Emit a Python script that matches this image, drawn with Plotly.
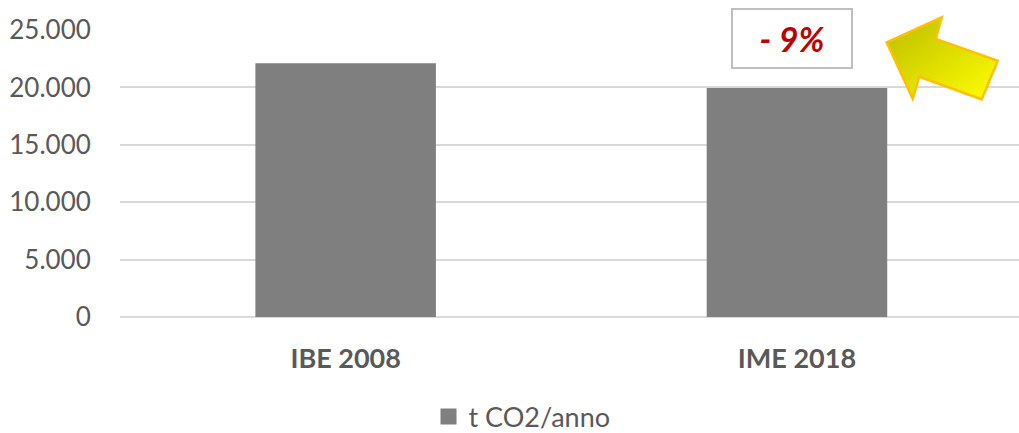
import base64
import plotly.graph_objects as go

# Emissions per inventory year
categories = ["IBE 2008", "IME 2018"]
emissions = [22100, 19950]
series_name = "t CO2/anno"
y_ticks = [0, 5000, 10000, 15000, 20000, 25000]
y_tick_labels = ["0", "5.000", "10.000", "15.000", "20.000", "25.000"]
change_label = "- 9%"

W, H = 1019, 433
ML, MR, MT, MB = 120, 0, 30, 116
PW, PH = W - ML - MR, H - MT - MB

FONT = "Lato"
GREY_TXT = "#595959"
BAR = "#7f7f7f"
GRID = "#d9d9d9"

fig = go.Figure()
fig.add_trace(go.Bar(
    x=list(range(len(categories))), y=emissions, width=0.4,
    marker=dict(color=BAR, line=dict(width=0)),
    showlegend=False, hoverinfo="y",
))
# legend entry with a larger square swatch
fig.add_trace(go.Scatter(
    x=[None], y=[None], mode="markers", name=series_name,
    marker=dict(symbol="square", size=17, color=BAR),
))

# highlighted arrow (SVG overlay in figure pixel space, gradient fill)
arrow_pts = [(886.7, 42.3), (941.7, 17.3), (935.7, 39.0), (997.7, 60.7),
             (981.7, 99.3), (919.3, 76.7), (912.7, 98.7)]
pts = " ".join(f"{x},{y}" for x, y in arrow_pts)
svg = (
    f'<svg xmlns="http://www.w3.org/2000/svg" width="{W}" height="{H}" viewBox="0 0 {W} {H}">'
    '<defs><linearGradient id="g" x1="0" y1="0" x2="1" y2="1">'
    '<stop offset="0" stop-color="#bcbc00"/><stop offset="1" stop-color="#ffff00"/>'
    '</linearGradient></defs>'
    f'<polygon points="{pts}" fill="url(#g)" stroke="#ffc000" stroke-width="2.5" '
    'stroke-linejoin="miter"/></svg>'
)
src = "data:image/svg+xml;base64," + base64.b64encode(svg.encode()).decode()
fig.add_layout_image(dict(
    source=src, xref="paper", yref="paper",
    x=-ML / PW, y=1 + MT / PH, sizex=W / PW, sizey=H / PH,
    xanchor="left", yanchor="top", sizing="stretch", layer="above",
))

# percentage change box
box_cx, box_cy = 791.5, 38.7
fig.add_annotation(
    xref="paper", yref="paper",
    x=(box_cx - ML) / PW, y=(H - MB - box_cy) / PH,
    xanchor="center", yanchor="middle", showarrow=False,
    text=f"<b><i>{change_label}</i></b>",
    font=dict(family=FONT, size=34, color="#c00000"),
    bgcolor="white", bordercolor="#bfbfbf", borderwidth=2, borderpad=0,
    width=118, height=57,
)

fig.update_layout(
    width=W, height=H,
    margin=dict(l=ML, r=MR, t=MT, b=MB, pad=0, autoexpand=False),
    paper_bgcolor="white", plot_bgcolor="white",
    font=dict(family=FONT, color=GREY_TXT),
    xaxis=dict(
        range=[-0.5, 1.492], tickmode="array",
        tickvals=list(range(len(categories))), ticktext=categories,
        tickfont=dict(family=FONT, size=27, color=GREY_TXT, weight="bold"),
        ticks="outside", ticklen=18, tickcolor="rgba(0,0,0,0)",
        showgrid=False, zeroline=False, showline=False, fixedrange=True,
    ),
    yaxis=dict(
        range=[0, 25000], tickmode="array",
        tickvals=y_ticks, ticktext=y_tick_labels,
        tickfont=dict(family=FONT, size=26, color=GREY_TXT),
        ticks="outside", ticklen=23, tickcolor="rgba(0,0,0,0)",
        showgrid=True, gridcolor=GRID, gridwidth=2,
        zeroline=True, zerolinecolor=GRID, zerolinewidth=2,
        showline=False, fixedrange=True,
    ),
    showlegend=True,
    legend=dict(
        orientation="h", x=(428.5 - ML) / PW, xanchor="left",
        y=(H - MB - 417) / PH, yanchor="middle",
        font=dict(family=FONT, size=27, color=GREY_TXT),
        bgcolor="rgba(0,0,0,0)", borderwidth=0,
    ),
)

fig.write_html("out.html")
